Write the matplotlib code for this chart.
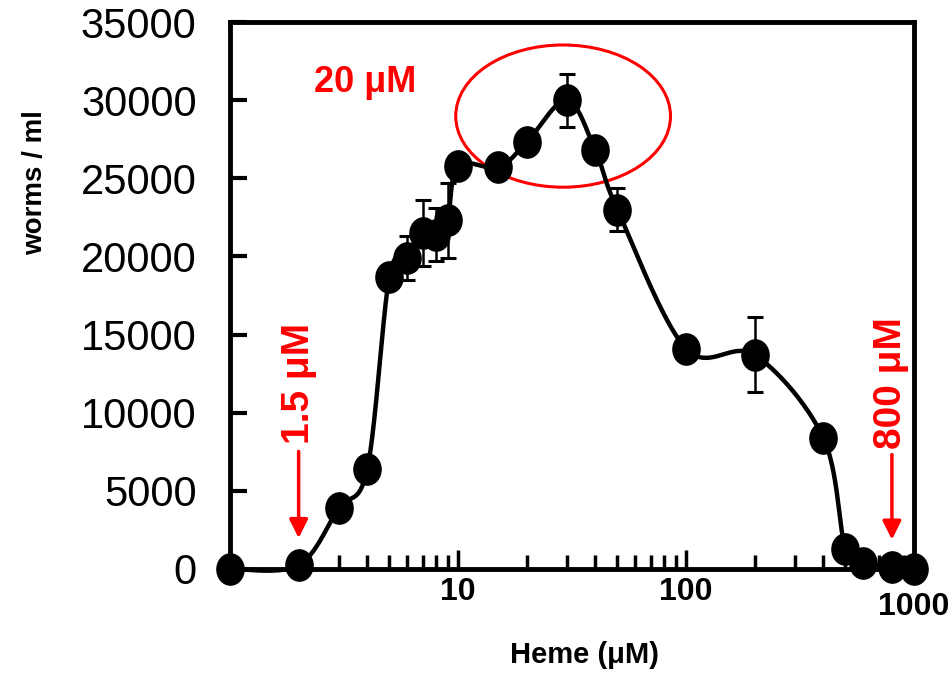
import numpy as np
import matplotlib
matplotlib.use('Agg')
from matplotlib import pyplot as plt
from matplotlib.path import Path
from matplotlib.patches import Ellipse
from matplotlib.transforms import Affine2D, ScaledTranslation

# heme concentration (uM) and worm density
heme = [1, 2, 3, 4, 5, 6, 7, 8, 9, 10, 15, 20, 30, 40, 50,
        100, 200, 400, 500, 600, 800, 1000]
worms = [0, 250, 3900, 6400, 18700, 19900, 21500, 21400, 22300, 25800, 25700, 27300, 30000,
         26800, 23000, 14100, 13700, 8400, 1300, 400, 150, 0]
err = [0, 0, 0, 0, 0, 1400, 2100, 1700, 2400, 0, 0, 0, 1700,
       0, 1400, 0, 2400, 0, 0, 0, 0, 0]
xticks = [10, 100, 1000]
yticks = [0, 5000, 10000, 15000, 20000, 25000, 30000, 35000]

plt.rcParams['font.family'] = ['Liberation Sans', 'DejaVu Sans']

fig = plt.figure(figsize=(9.51, 6.77), dpi=100)
ax = fig.add_axes([230 / 951, 108 / 677, 684 / 951, 547 / 677])
ax.set_xscale('log')
ax.set_xlim(1, 1000)
ax.set_ylim(0, 35000)

# smooth line like the spreadsheet "smoothed line" option (catmull-rom in screen space)
aspect = 547 / 684
u = np.log10(heme) / 3
v = np.array(worms) / 35000 * aspect
pts = np.column_stack([u, v])
pad = np.vstack([pts[0], pts, pts[-1]])
cu, cv = [], []
t = np.linspace(0, 1, 40)
for i in range(len(pts) - 1):
    p0, p1, p2, p3 = pad[i], pad[i + 1], pad[i + 2], pad[i + 3]
    c1 = p1 + (p2 - p0) / 6
    c2 = p2 - (p3 - p1) / 6
    b = ((1 - t) ** 3)[:, None] * p1 + (3 * (1 - t) ** 2 * t)[:, None] * c1 \
        + (3 * (1 - t) * t ** 2)[:, None] * c2 + (t ** 3)[:, None] * p2
    cu.extend(b[:, 0])
    cv.extend(b[:, 1])
cu = np.array(cu)
cv = np.array(cv)
ax.plot(10 ** (3 * cu), cv / aspect * 35000, color='black', lw=3.2, zorder=3, clip_on=False)

# error bars
for xi, yi, ei in zip(heme, worms, err):
    if ei > 0:
        ax.errorbar(xi, yi, yerr=ei, fmt='none', ecolor='black', elinewidth=1.8,
                    capsize=5.5, capthick=2.2, zorder=3)

oval = Path.unit_circle().transformed(Affine2D().scale(0.87, 1.0))
ax.plot(heme, worms, linestyle='none', marker=oval, markersize=22.5,
        color='black', zorder=4, clip_on=False)

# axes styling
for s in ax.spines.values():
    s.set_linewidth(3.5)
ax.set_yticks(yticks)
ax.set_yticklabels([str(v_) for v_ in yticks])
ax.tick_params(axis='y', direction='in', length=12, width=3, pad=24, labelsize=30)
ax.set_xticks(xticks)
ax.set_xticklabels([str(x_) for x_ in xticks], fontweight='bold')
ax.tick_params(axis='x', which='major', direction='in', length=14, width=2.5,
               pad=6, labelsize=23)
ax.tick_params(axis='x', which='minor', direction='in', length=10, width=2.5)
ax.tick_params(axis='both', right=False, top=False)
ax.xaxis.get_ticklabels()[-1].set_transform(
    ax.xaxis.get_ticklabels()[-1].get_transform()
    + ScaledTranslation(0, -15 / 100, fig.dpi_scale_trans))

ax.text(0.519, -0.157, 'Heme (\u03bcM)', transform=ax.transAxes, fontsize=21,
        fontweight='bold', ha='center', va='center')
ax.text(-0.285, 0.706, 'worms / ml', transform=ax.transAxes, fontsize=20,
        fontweight='bold', ha='center', va='center', rotation=90)

# red annotations
ax.text(0.197, 0.89, '20 \u03bcM', transform=ax.transAxes, color='red', fontsize=26,
        fontweight='bold', ha='center', va='center')
ax.add_patch(Ellipse((0.487, 0.828), 0.314, 0.26, transform=ax.transAxes,
                     fill=False, edgecolor='red', lw=2.2, zorder=2))

ax.text(2.0, 0.34, '1.5 \u03bcM', transform=ax.get_xaxis_transform(), color='red',
        fontsize=28, fontweight='bold', rotation=90, ha='center', va='center')
ax.annotate('', xy=(2.0, 1800), xytext=(2.0, 7700),
            arrowprops=dict(arrowstyle='-|>', color='red', lw=2.5, mutation_scale=28))
ax.text(790, 0.34, '800 \u03bcM', transform=ax.get_xaxis_transform(), color='red',
        fontsize=28, fontweight='bold', rotation=90, ha='center', va='center')
ax.annotate('', xy=(800, 1700), xytext=(800, 7500),
            arrowprops=dict(arrowstyle='-|>', color='red', lw=2.5, mutation_scale=28))

plt.savefig('out.png', dpi=100)
